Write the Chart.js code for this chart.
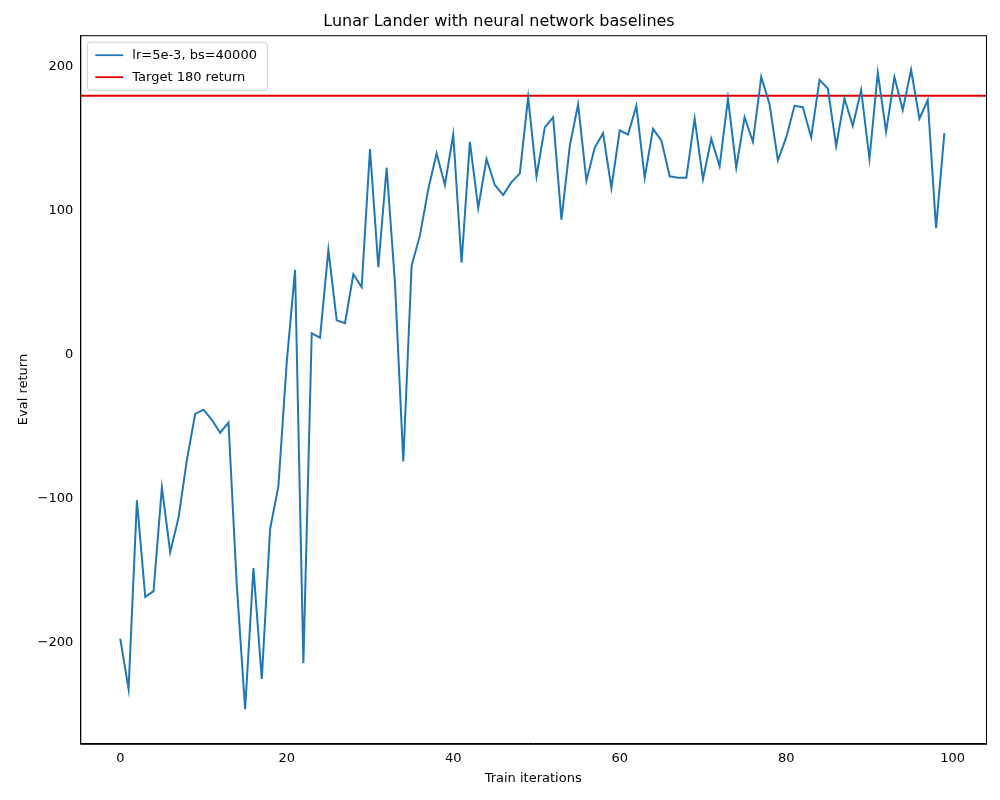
<!DOCTYPE html>
<html><head><meta charset="utf-8">
<script src="https://cdn.jsdelivr.net/npm/chart.js@4"></script>
<style>html,body{margin:0;background:#fff}#wrap{width:1000px;height:800px}</style>
</head><body><div id="wrap"><canvas id="c"></canvas></div>
<script>
const evalReturn = [-197,-232,-101,-168,-164,-92,-137,-113,-73,-41,-38,-45,-54,-47,-160,-246,-148,-225,-121,-91,
  -5,59,-214,15,12,73,24,22,56,47,143,61,130,50,-74,62,83,115,140,118,
  153,64,148,102,136,118,111,120,126,179,124,158,165,94,145,174,121,144,154,116,
  156,153,173,123,157,149,124,123,123,164,122,150,131,178,130,165,148,193,174,135,
  151,173,172,151,191,185,145,178,159,184,136,196,155,193,170,198,164,177,88,154];
const iterations = evalReturn.map((_, i) => i);
const TARGET = 180;
const X_MIN = -4.8, X_MAX = 104;
const Y_MIN = -270, Y_MAX = 222;
const FONT = "DejaVu Sans";

Chart.defaults.font.family = FONT;
Chart.defaults.color = "#000";
Chart.defaults.animation = false;

const frame = {
  id: "frame",
  afterDraw(chart) {
    const { ctx, chartArea: a } = chart;
    ctx.save();
    ctx.strokeStyle = "#000"; ctx.lineWidth = 1;
    ctx.strokeRect(a.left + 0.5, a.top + 0.5, a.right - a.left, a.bottom - a.top);
    // legend box
    const x = a.left + 7, y = a.top + 7, w = 180, h = 48;
    ctx.fillStyle = "rgba(255,255,255,0.8)"; ctx.strokeStyle = "#ccc";
    ctx.beginPath(); ctx.roundRect(x, y, w, h, 3); ctx.fill(); ctx.stroke();
    ctx.font = "13px " + FONT; ctx.textBaseline = "middle"; ctx.fillStyle = "#000";
    [["#1f77b4", "lr=5e-3, bs=40000"], ["#e00000", "Target 180 return"]].forEach(([c, t], i) => {
      const ly = y + 13 + i * 22;
      ctx.strokeStyle = c; ctx.lineWidth = 1.8;
      ctx.beginPath(); ctx.moveTo(x + 8, ly); ctx.lineTo(x + 36, ly); ctx.stroke();
      ctx.fillText(t, x + 45, ly);
    });
    ctx.restore();
  }
};

new Chart(document.getElementById("c"), {
  type: "line",
  data: {
    datasets: [
      { data: iterations.map((x, i) => ({ x, y: evalReturn[i] })), borderColor: "#1f77b4", borderWidth: 2, pointRadius: 0, tension: 0 },
      { data: [{ x: X_MIN, y: TARGET }, { x: X_MAX, y: TARGET }], borderColor: "#e00000", borderWidth: 2, pointRadius: 0 }
    ]
  },
  options: {
    responsive: true, maintainAspectRatio: false,
    layout: { padding: { top: 0, right: 14, left: 12, bottom: 10 } },
    plugins: {
      legend: { display: false }, tooltip: { enabled: false },
      title: { display: true, text: "Lunar Lander with neural network baselines", font: { size: 16, weight: "normal" }, padding: { top: 12, bottom: 4 } }
    },
    scales: {
      x: { type: "linear", min: X_MIN, max: X_MAX, grid: { display: false, drawTicks: true, tickLength: 5, tickColor: "#000" }, border: { color: "#000" },
        ticks: { font: { size: 13 }, padding: 2, autoSkip: false, maxRotation: 0 },
        afterBuildTicks: s => { s.ticks = [0, 20, 40, 60, 80, 100].map(v => ({ value: v })); },
        title: { display: true, text: "Train iterations", font: { size: 13 }, padding: { top: 2 } } },
      y: { min: Y_MIN, max: Y_MAX, grid: { display: false, tickLength: 5, tickColor: "#000" }, border: { color: "#000" },
        ticks: { font: { size: 13 }, padding: 2, callback: v => String(v).replace("-", "\u2212") },
        afterBuildTicks: s => { s.ticks = [-200, -100, 0, 100, 200].map(v => ({ value: v })); },
        title: { display: true, text: "Eval return", font: { size: 13 } } }
    }
  },
  plugins: [frame]
});
</script></body></html>
